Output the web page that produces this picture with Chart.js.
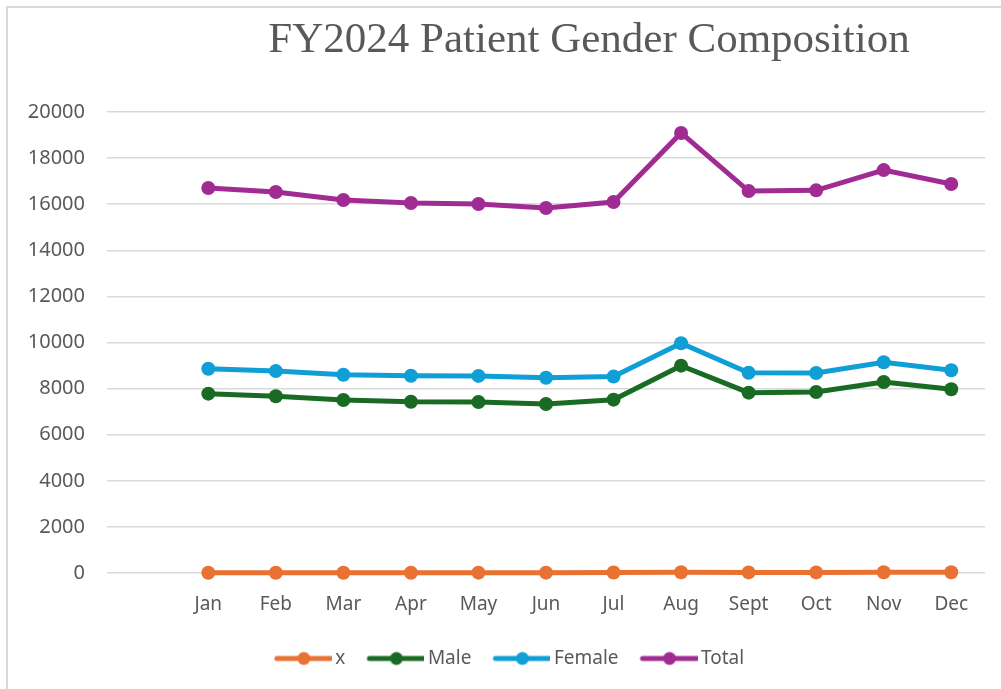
<!DOCTYPE html>
<html>
<head>
<meta charset="utf-8">
<script src="https://cdn.jsdelivr.net/npm/chart.js@4/dist/chart.umd.min.js"></script>
<style>
  html, body { margin: 0; padding: 0; background: #fff; }
  #wrap { position: relative; width: 1001px; height: 689px; overflow: hidden; }
  #frame { position: absolute; left: 6px; top: 6px; width: 1020px; height: 720px; border: 2px solid #d9d9d9; box-sizing: border-box; }
  #graph { position: absolute; left: 0; top: 0; }
</style>
</head>
<body>
<div id="wrap">
  <div id="frame"></div>
  <canvas id="graph" width="1001" height="689"></canvas>
</div>
<script>
// first category is empty, like in the sheet
const months = ["", "Jan", "Feb", "Mar", "Apr", "May", "Jun", "Jul", "Aug", "Sept", "Oct", "Nov", "Dec"];
const xValues = [null, 10, 12, 10, 12, 15, 15, 20, 30, 25, 25, 35, 30];
const maleValues = [null, 7780, 7665, 7505, 7430, 7420, 7330, 7520, 8995, 7825, 7850, 8285, 7970];
const femaleValues = [null, 8860, 8760, 8600, 8560, 8550, 8470, 8520, 9965, 8690, 8675, 9140, 8795];
const totalValues = [null, 16700, 16530, 16180, 16050, 16010, 15835, 16095, 19090, 16570, 16600, 17480, 16875];
const yTicks = [0, 2000, 4000, 6000, 8000, 10000, 12000, 14000, 16000, 18000, 20000];

const colors = {
  x: "#E97132",
  male: "#196B24",
  female: "#0F9ED5",
  total: "#A02B93",
};

// legend symbol: line with a dot, drawn a bit wider than its box
function legendIcon(color) {
  const c = document.createElement("canvas");
  c.width = 75;
  c.height = 16;
  const ctx = c.getContext("2d");
  ctx.strokeStyle = color;
  ctx.lineWidth = 5;
  ctx.lineCap = "round";
  ctx.beginPath();
  ctx.moveTo(20, 8);
  ctx.lineTo(74, 8);
  ctx.stroke();
  ctx.fillStyle = color;
  ctx.beginPath();
  ctx.arc(47, 8, 6.5, 0, Math.PI * 2);
  ctx.fill();
  return c;
}

function series(label, data, color) {
  return {
    label: label,
    data: data,
    borderColor: color,
    backgroundColor: color,
    borderWidth: 5,
    pointRadius: 7,
    pointHoverRadius: 7,
    pointBorderWidth: 0,
    tension: 0,
    clip: false,
  };
}

const titlePlugin = {
  id: "sheetTitle",
  afterLayout(chart) {
    chart.legend.left += 11;
    chart.legend.right += 11;
  },
  afterDraw(chart) {
    const ctx = chart.ctx;
    ctx.save();
    ctx.font = "43px 'Liberation Serif'";
    ctx.fillStyle = "#595959";
    ctx.textAlign = "center";
    ctx.textBaseline = "alphabetic";
    ctx.fillText("FY2024 Patient Gender Composition", 589, 52);
    ctx.restore();
  },
};

const graph = new Chart(document.getElementById("graph").getContext("2d"), {
  type: "line",
  data: {
    labels: months,
    datasets: [
      series("x", xValues, colors.x),
      series("Male", maleValues, colors.male),
      series("Female", femaleValues, colors.female),
      series("Total", totalValues, colors.total),
    ],
  },
  options: {
    responsive: false,
    animation: false,
    layout: { padding: { top: 112, right: 16, bottom: 11, left: 0 } },
    scales: {
      x: {
        offset: true,
        grid: { display: false },
        border: { display: false },
        ticks: {
          color: "#595959",
          font: { family: "'Noto Sans'", size: 19 },
          padding: 12,
          maxRotation: 0,
          autoSkip: false,
        },
        afterFit(scale) { scale.height = 66; },
      },
      y: {
        min: 0,
        max: 20000,
        afterBuildTicks(scale) { scale.ticks = yTicks.map(v => ({ value: v })); },
        grid: { color: "#d9d9d9", lineWidth: 1.5, drawTicks: false },
        border: { display: false },
        ticks: {
          color: "#595959",
          font: { family: "'Noto Sans'", size: 20 },
          padding: 22,
          callback: value => String(value),
        },
        afterFit(scale) { scale.width = 107; },
      },
    },
    plugins: {
      title: { display: false },
      tooltip: { enabled: false },
      legend: {
        display: true,
        position: "bottom",
        labels: {
          usePointStyle: true,
          pointStyleWidth: 63,
          color: "#595959",
          font: { family: "'Noto Sans'", size: 19 },
          padding: 10,
          generateLabels: chart => Chart.defaults.plugins.legend.labels.generateLabels(chart).map(item => {
            item.pointStyle = legendIcon(chart.data.datasets[item.datasetIndex].borderColor);
            return item;
          }),
        },
      },
    },
  },
  plugins: [titlePlugin],
});
</script>
</body>
</html>
